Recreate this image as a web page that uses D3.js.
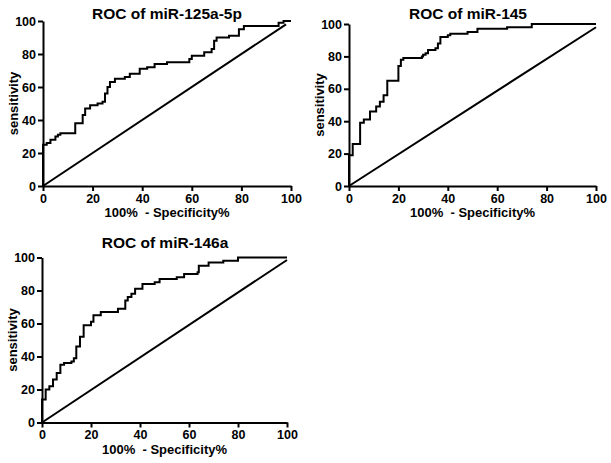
<!DOCTYPE html>
<html>
<head>
<meta charset="utf-8">
<script src="https://cdn.jsdelivr.net/npm/d3@7"></script>
<style>
  html, body { margin: 0; padding: 0; background: #fff; }
  svg { display: block; font-family: "Liberation Sans", Arial, sans-serif; }
</style>
</head>
<body>
<svg id="chart" width="611" height="463"></svg>
<script>
// ---- data ----
const titles = ["ROC of miR-125a-5p", "ROC of miR-145", "ROC of miR-146a"];
const xAxisTitle = "100%  - Specificity%";
const yAxisTitle = "sensitivity";
const tickValues = [0, 20, 40, 60, 80, 100];

// ROC step vertices [100% - specificity, sensitivity]
const roc125a = [[0,0],[0,25],[1.5,26],[3,28],[5,30],[6,31],[7,32],[13,38],[16,43],[17,47],[19,49],[22,50],[24,51],[25,56],[26,60],[27,63],[29,65],[33,66],[35,68],[39,71],[42,72],[45,74],[50,75],[59,77],[60,79],[65,81],[68,83],[69,88],[70,90],[75,91],[79,95],[81,97],[95,99],[97,100],[100,100]];
const roc145 = [[0,0],[0,19],[1.5,26],[4.5,39],[6,41],[8.5,46],[11,49],[12.5,52],[14,56],[15.5,65],[20,74],[21,78],[22,79],[29.5,80],[30,81],[31,82],[32,84],[35,85],[36,88],[37,92],[40,93],[41,94],[48,95],[52,97],[64,98],[74,100],[100,100]];
const roc146a = [[0,0],[0,14],[1.5,20],[3,22],[4.5,26],[6,30],[7.5,35],[9,36],[12,37],[13,39],[14,46],[15.5,52],[17,59],[20,61],[21,65],[24,67],[31,69],[34,74],[35,76],[36.5,78],[38,81],[41,84],[46,85],[48,87],[55,88],[58,90],[63.5,91],[64,95],[68,97],[74,98],[80,100],[100,100]];
// reference (identity) lines
const ref125a = [[0,0],[98,98]];
const ref145 = [[0,0],[100,98]];
const ref146a = [[0,0],[100,98.5]];

// ---- layout ----
const panels = [
  { title: titles[0], roc: roc125a, ref: ref125a, x: [43, 291], y: [186, 21], titleX: 167, titleY: 19, yTitleX: 13 },
  { title: titles[1], roc: roc145, ref: ref145, x: [349, 596], y: [186, 24], titleX: 468, titleY: 19, yTitleX: 319 },
  { title: titles[2], roc: roc146a, ref: ref146a, x: [42, 287], y: [422.5, 257.5], titleX: 165, titleY: 247.5, yTitleX: 12 }
];

const svg = d3.select("#chart");

panels.forEach(p => {
  const xs = d3.scaleLinear().domain([0, 100]).range(p.x);
  const ys = d3.scaleLinear().domain([0, 100]).range(p.y);
  const g = svg.append("g");

  // title
  g.append("text")
    .attr("x", p.titleX).attr("y", p.titleY)
    .attr("text-anchor", "middle")
    .style("font-size", "15.5px").style("font-weight", "bold")
    .text(p.title);

  // reference diagonal
  const line = d3.line().x(d => xs(d[0])).y(d => ys(d[1]));
  g.append("path").datum(p.ref)
    .attr("d", line)
    .attr("fill", "none").attr("stroke", "#000").attr("stroke-width", 2);

  // ROC curve
  const stepLine = d3.line().x(d => xs(d[0])).y(d => ys(d[1])).curve(d3.curveStepAfter);
  g.append("path").datum(p.roc)
    .attr("d", stepLine)
    .attr("fill", "none").attr("stroke", "#000").attr("stroke-width", 2)
    .attr("stroke-linejoin", "miter");

  // axes
  const xAxis = d3.axisBottom(xs).tickValues(tickValues).tickSize(5).tickSizeOuter(0).tickPadding(3);
  const yAxis = d3.axisLeft(ys).tickValues(tickValues).tickSize(5).tickSizeOuter(0).tickPadding(2);
  const gx = g.append("g").attr("transform", `translate(0,${p.y[0]})`).call(xAxis);
  const gy = g.append("g").attr("transform", `translate(${p.x[0]},0)`).call(yAxis);
  [gx, gy].forEach(a => {
    a.select(".domain").attr("stroke", "#000").attr("stroke-width", 2);
    a.selectAll(".tick line").attr("stroke", "#000").attr("stroke-width", 2);
    a.selectAll(".tick text")
      .attr("fill", "#000")
      .style("font-family", "'Liberation Sans', Arial, sans-serif")
      .style("font-size", "12.5px").style("font-weight", "bold");
  });

  // axis titles
  g.append("text")
    .attr("x", (p.x[0] + p.x[1]) / 2).attr("y", p.y[0] + 31)
    .attr("text-anchor", "middle")
    .style("font-size", "13px").style("font-weight", "bold")
    .style("white-space", "pre")
    .text(xAxisTitle);
  g.append("text")
    .attr("transform", `translate(${p.yTitleX},${(p.y[0] + p.y[1]) / 2}) rotate(-90)`)
    .attr("text-anchor", "middle")
    .attr("dy", "0.35em")
    .style("font-size", "13px").style("font-weight", "bold")
    .text(yAxisTitle);
});
</script>
</body>
</html>
